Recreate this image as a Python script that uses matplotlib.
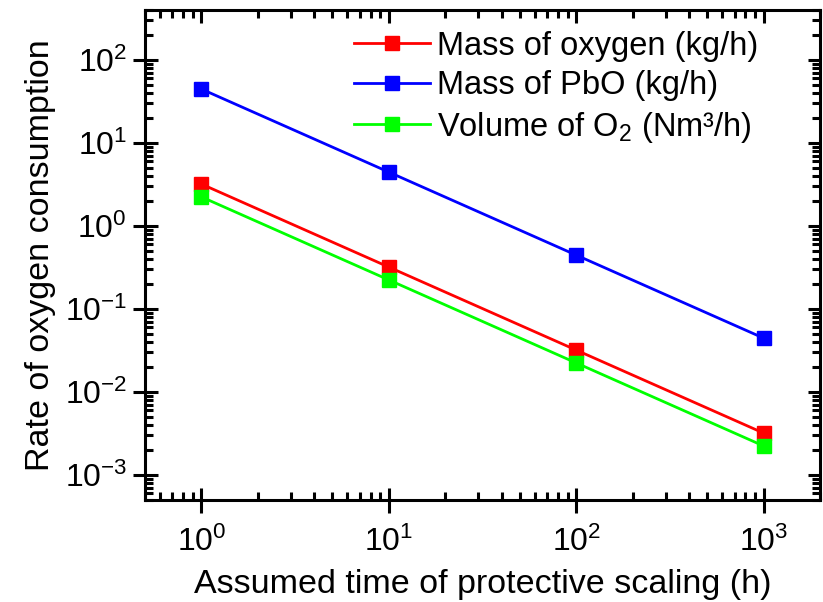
import matplotlib
matplotlib.use("Agg")
import matplotlib.pyplot as plt
from matplotlib.ticker import LogLocator, FixedLocator, FixedFormatter, NullFormatter

plt.rcParams['font.family'] = ['Liberation Sans', 'DejaVu Sans']
plt.rcParams['mathtext.fontset'] = 'custom'
plt.rcParams['mathtext.rm'] = 'Liberation Sans'
plt.rcParams['mathtext.it'] = 'Liberation Sans:italic'
plt.rcParams['mathtext.bf'] = 'Liberation Sans:bold'

time_h = [1, 10, 100, 1000]
mass_oxygen = [3.2, 0.32, 0.032, 0.0032]
mass_pbo = [44.6, 4.46, 0.446, 0.0446]
volume_o2 = [2.24, 0.224, 0.0224, 0.00224]

x_ticks = [1, 10, 100, 1000]
x_tick_labels = ['$10^{0}$', '$10^{1}$', '$10^{2}$', '$10^{3}$']
y_ticks = [1e-3, 1e-2, 1e-1, 1e0, 1e1, 1e2]
y_tick_labels = ['$10^{-3}$', '$10^{-2}$', '$10^{-1}$', '$10^{0}$', '$10^{1}$', '$10^{2}$']

fig = plt.figure(figsize=(8.23, 6.02), dpi=100)
pos = [145/823, 1 - 500/602, (820-145)/823, (500-10)/602]
ax = fig.add_axes(pos)

series = [
    (mass_oxygen, '#ff0000', 'Mass of oxygen (kg/h)'),
    (mass_pbo, '#0000ff', 'Mass of PbO (kg/h)'),
    (volume_o2, '#00ff00', 'Volume of O$_2$ (Nm\u00b3/h)'),
]
for vals, col, lab in series:
    ax.plot(time_h, vals, color=col, lw=2, marker='s', ms=10,
            markeredgecolor=col, label=lab)

ax.set_xscale('log')
ax.set_yscale('log')
ax.set_xlim(0.5, 2000)
ax.set_ylim(5e-4, 400)

def setup_ticks(a):
    a.xaxis.set_major_locator(FixedLocator(x_ticks))
    a.xaxis.set_major_formatter(FixedFormatter(x_tick_labels))
    a.yaxis.set_major_locator(FixedLocator(y_ticks))
    a.yaxis.set_major_formatter(FixedFormatter(y_tick_labels))
    a.xaxis.set_minor_locator(LogLocator(base=10, subs=range(2, 10), numticks=20))
    a.yaxis.set_minor_locator(LogLocator(base=10, subs=range(2, 10), numticks=20))
    a.xaxis.set_minor_formatter(NullFormatter())
    a.yaxis.set_minor_formatter(NullFormatter())

setup_ticks(ax)
for s in ax.spines.values():
    s.set_linewidth(2.2)

ax.tick_params(axis='both', which='major', direction='inout', length=18, width=2.2,
               labelsize=23, pad=4)
ax.tick_params(axis='x', which='major', pad=10)
ax.tick_params(axis='both', which='minor', direction='in', length=6, width=2.2)
ax.tick_params(top=False, right=False, which='both')

# top/right inward ticks
axt = fig.add_axes(pos, sharex=ax, sharey=ax)
axt.patch.set_visible(False)
for s in axt.spines.values():
    s.set_visible(False)
axt.tick_params(which='both', direction='in', width=2.2, bottom=False, left=False,
                top=True, right=True, labelbottom=False, labelleft=False,
                labeltop=False, labelright=False)
axt.tick_params(which='major', length=9)
axt.tick_params(which='minor', length=6)

ax.set_xlabel('Assumed time of protective scaling (h)', fontsize=24.5, labelpad=8)
ax.set_ylabel('Rate of oxygen consumption', fontsize=24.5, labelpad=6)

leg = ax.legend(loc='upper left', bbox_to_anchor=(0.31, 0.958), frameon=False,
                fontsize=23.5, handlelength=2.33, handletextpad=0.2,
                labelspacing=0.26, borderaxespad=0, borderpad=0)

fig.savefig('out.png', dpi=100)
